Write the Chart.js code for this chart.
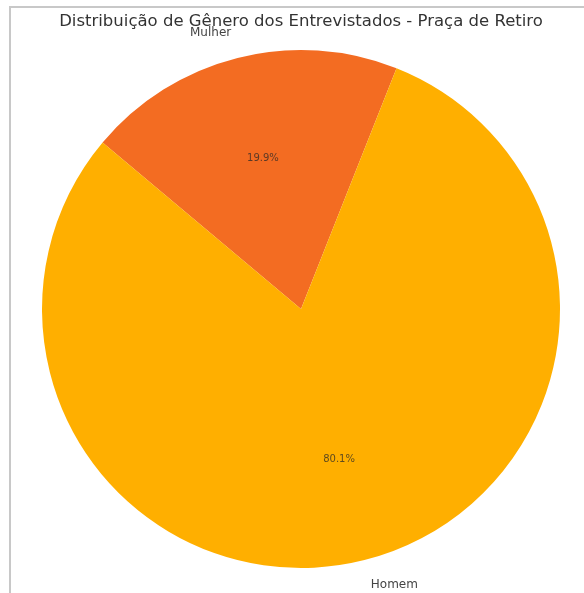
<!DOCTYPE html>
<html>
<head>
<meta charset="utf-8">
<script src="https://cdn.jsdelivr.net/npm/chart.js@4"></script>
<style>
  html, body { margin: 0; padding: 0; background: #fff; }
  #wrap { position: relative; width: 584px; height: 593px; }
  #frame { position: absolute; left: 9px; top: 6px; right: -4px; bottom: -4px;
           border-top: 2px solid #c8c8c8; border-left: 2px solid #c8c8c8; }
  canvas { position: absolute; left: 0; top: 0; }
</style>
</head>
<body>
<div id="wrap">
  <div id="frame"></div>
  <canvas id="generoPie" width="584" height="593"></canvas>
</div>
<script>
let generoPie = document.querySelector("#generoPie");
let labels = ["Mulher", "Homem"];
let percentages = [19.9, 80.1];
let colors = ["#F36C22", "#FFAF00"];
let title = "Distribuição de Gênero dos Entrevistados - Praça de Retiro";

// draws the title, outer labels and percentages the way matplotlib places them
const pieText = {
  id: "pieText",
  afterDraw(chart) {
    let ctx = chart.ctx;
    ctx.save();
    ctx.font = "16.5px 'DejaVu Sans'";
    ctx.fillStyle = "#333333";
    ctx.textAlign = "center";
    ctx.textBaseline = "middle";
    ctx.fillText(title, 301, 22);

    chart.getDatasetMeta(0).data.forEach((arc, i) => {
      let mid = (arc.startAngle + arc.endAngle) / 2;
      let r = arc.outerRadius;
      let cx = arc.x, cy = arc.y;

      // category label at 1.1 r
      let lx = cx + Math.cos(mid) * r * 1.1;
      let ly = cy + Math.sin(mid) * r * 1.1;
      ctx.font = "12px 'DejaVu Sans'";
      ctx.fillStyle = "#444444";
      ctx.textAlign = Math.cos(mid) < 0 ? "right" : "left";
      ctx.fillText(labels[i], lx, ly);

      // percentage at 0.6 r
      let px = cx + Math.cos(mid) * r * 0.6;
      let py = cy + Math.sin(mid) * r * 0.6;
      ctx.font = "10px 'DejaVu Sans'";
      ctx.fillStyle = "rgba(40,40,40,0.75)";
      ctx.textAlign = "center";
      ctx.fillText(percentages[i].toFixed(1) + "%", px, py);
    });
    ctx.restore();
  },
};

new Chart(generoPie, {
  type: "pie",
  data: {
    labels: labels,
    datasets: [
      {
        data: percentages,
        backgroundColor: colors,
        borderWidth: 0,
      },
    ],
  },
  options: {
    responsive: false,
    animation: false,
    rotation: -50,
    layout: {
      padding: { left: 42, right: 24, top: 50, bottom: 25 },
    },
    plugins: {
      legend: { display: false },
      tooltip: { enabled: false },
    },
  },
  plugins: [pieText],
});
</script>
</body>
</html>
